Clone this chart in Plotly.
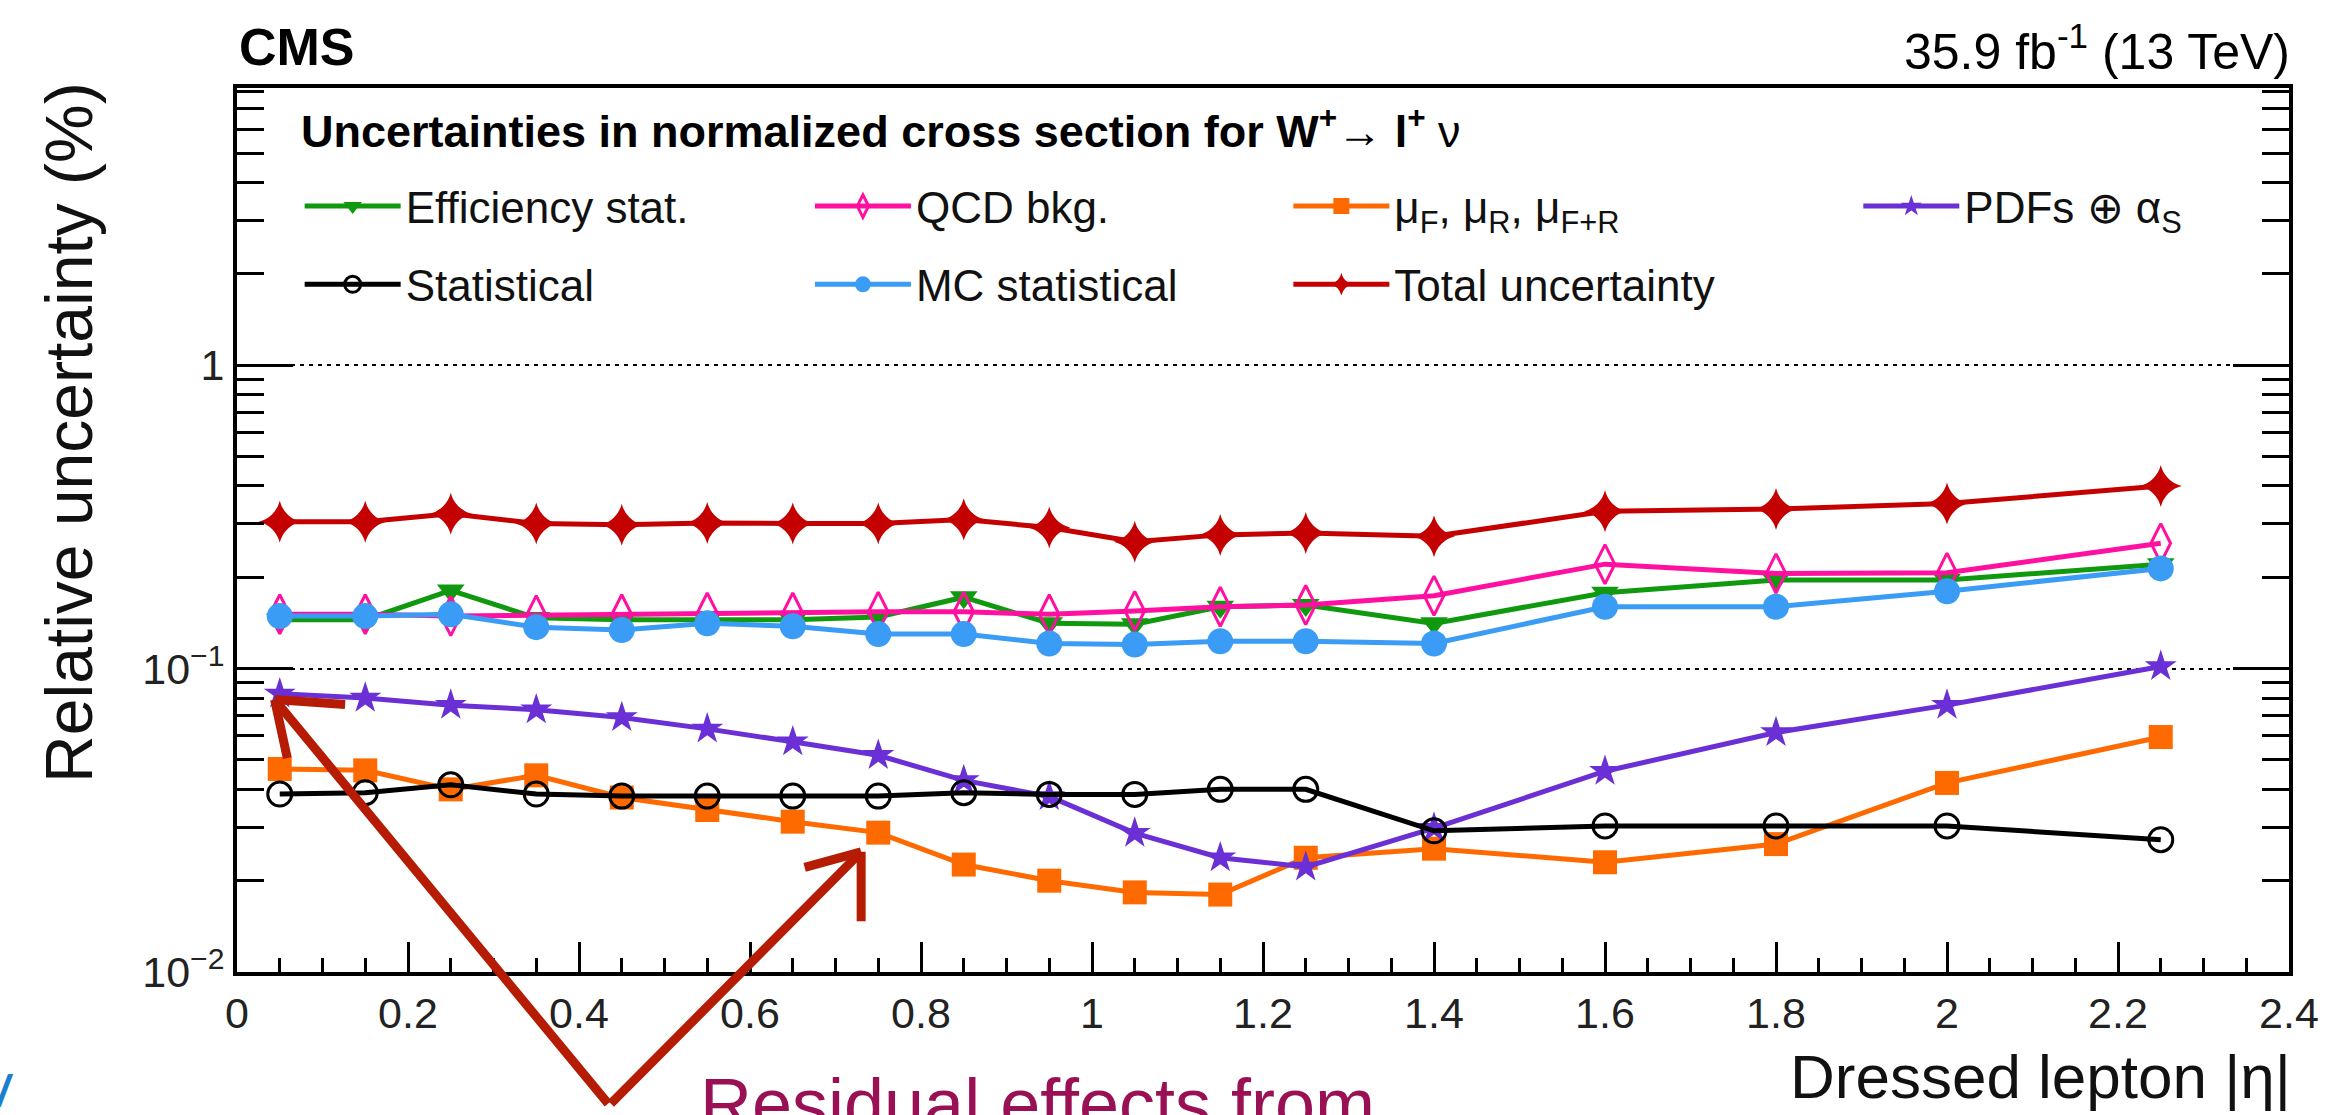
import plotly.graph_objects as go

# |eta| bin centres of the dressed lepton
eta = [0.05, 0.15, 0.25, 0.35, 0.45, 0.55, 0.65, 0.75, 0.85, 0.95,
       1.05, 1.15, 1.25, 1.4, 1.6, 1.8, 2.0, 2.25]

# relative uncertainties (%) per source
eff_stat = [0.145, 0.145, 0.181, 0.147, 0.145, 0.145, 0.145, 0.148, 0.172, 0.141,
            0.140, 0.160, 0.162, 0.141, 0.178, 0.196, 0.196, 0.221]
qcd_bkg = [0.151, 0.151, 0.149, 0.150, 0.151, 0.153, 0.153, 0.154, 0.154, 0.151,
           0.155, 0.160, 0.162, 0.174, 0.221, 0.206, 0.207, 0.259]
scales = [0.0467, 0.0462, 0.0400, 0.0445, 0.0376, 0.0342, 0.0313, 0.0288, 0.0226, 0.0200,
          0.0183, 0.0180, 0.0238, 0.0255, 0.0230, 0.0264, 0.0420, 0.0595]
pdf_as = [0.0826, 0.0800, 0.0758, 0.0732, 0.0690, 0.0633, 0.0574, 0.0518, 0.0428, 0.0379,
          0.0287, 0.0238, 0.0222, 0.0298, 0.0459, 0.0616, 0.0758, 0.1017]
stat = [0.0386, 0.0390, 0.0414, 0.0386, 0.0380, 0.0380, 0.0380, 0.0380, 0.0390, 0.0385,
        0.0385, 0.0400, 0.0400, 0.0292, 0.0303, 0.0303, 0.0303, 0.0273]
mc_stat = [0.149, 0.149, 0.151, 0.137, 0.134, 0.141, 0.138, 0.130, 0.130, 0.121,
           0.120, 0.123, 0.123, 0.121, 0.160, 0.160, 0.180, 0.214]
total = [0.305, 0.305, 0.324, 0.301, 0.298, 0.302, 0.301, 0.301, 0.310, 0.292,
         0.262, 0.276, 0.280, 0.273, 0.330, 0.336, 0.350, 0.400]

x_ticks = [0, 0.2, 0.4, 0.6, 0.8, 1, 1.2, 1.4, 1.6, 1.8, 2, 2.2, 2.4]
x_ticktext = ["0", "0.2", "0.4", "0.6", "0.8", "1", "1.2", "1.4", "1.6", "1.8", "2", "2.2", "2.4"]
y_ticks = [0.01, 0.1, 1]
y_ticktext = ["10<sup>−2</sup>", "10<sup>−1</sup>", "1"]
y_minor = [m * 10.0 ** k for k in (-2, -1, 0) for m in range(2, 10)]

FONT = "Liberation Sans, Arial, Helvetica, sans-serif"
W, H = 2331, 1115
ML, MR, MT, MB = 237, 31, 88, 143
PW, PH = W - ML - MR, H - MT - MB


def px(x):
    return (x - ML) / PW


def py(y):
    return (H - MB - y) / PH


series = [
    # name, values, colour, symbol, size, legend
    ("Efficiency stat.", eff_stat, "#10990f", "triangle-down", 24, "legend"),
    ("QCD bkg.", qcd_bkg, "#ff10a0", "diamond-tall-open", 28, "legend2"),
    ("μ<sub>F</sub>, μ<sub>R</sub>, μ<sub>F+R</sub>", scales, "#ff6a00", "square", 24, "legend3"),
    ("PDFs ⊕ α<sub>S</sub>", pdf_as, "#6b2fd6", "star", 24, "legend4"),
    ("Statistical", stat, "#000000", "circle-open", 24, "legend"),
    ("MC statistical", mc_stat, "#3a9cf5", "circle", 26, "legend2"),
    ("Total uncertainty", total, "#c40000", "star-diamond", 30, "legend3"),
]

fig = go.Figure()
for i, (name, vals, col, sym, size, leg) in enumerate(series):
    open_sym = sym.endswith("open")
    fig.add_trace(go.Scatter(
        x=eta, y=vals, name=name, mode="lines+markers",
        legend=leg, legendgroup=f"g{i}",
        line=dict(color=col, width=5),
        marker=dict(symbol=sym, size=size, color=col,
                    line=dict(color=col, width=3 if open_sym else 0)),
    ))

legend_common = dict(
    font=dict(family=FONT, size=44, color="#111"),
    bgcolor="rgba(0,0,0,0)", borderwidth=0,
    xanchor="left", yanchor="top", orientation="v",
    itemwidth=96, tracegroupgap=18, itemclick=False,
)
legend_top = py(171)
fig.update_layout(
    legend=dict(x=px(300), y=legend_top, **legend_common),
    legend2=dict(x=px(813), y=legend_top, **legend_common),
    legend3=dict(x=px(1294), y=legend_top, **legend_common),
    legend4=dict(x=px(1867), y=legend_top, **legend_common),
)

axis_line = dict(showline=True, linecolor="black", linewidth=4, zeroline=False)
fig.update_xaxes(
    type="linear", range=[0, 2.4], mirror=True,
    tickmode="array", tickvals=x_ticks, ticktext=x_ticktext,
    ticks="inside", ticklen=30, tickwidth=3, tickcolor="black",
    minor=dict(dtick=0.05, tick0=0, ticks="inside", ticklen=14, tickwidth=3,
               tickcolor="black", showgrid=False),
    showgrid=False,
    tickfont=dict(family=FONT, size=43, color="#222"),
    **axis_line,
)
fig.update_yaxes(
    type="log", range=[-2, 0.914], mirror="ticks",
    tickmode="array", tickvals=y_ticks, ticktext=y_ticktext,
    ticks="inside", ticklen=56, tickwidth=3, tickcolor="black",
    minor=dict(tickmode="array", tickvals=y_minor, ticks="inside", ticklen=27,
               tickwidth=3, tickcolor="black", showgrid=False),
    showgrid=True, gridcolor="black", gridwidth=2, griddash="4px,5px",
    tickfont=dict(family=FONT, size=43, color="#222"),
    **axis_line,
)

annotations = [
    dict(text="<b>CMS</b>", x=0, y=py(47), xanchor="left", yanchor="middle",
         font=dict(family=FONT, size=52, color="black")),
    dict(text="35.9 fb<sup>-1</sup> (13 TeV)", x=px(2303), y=py(48),
         xanchor="right", yanchor="middle",
         font=dict(family=FONT, size=50, color="black")),
    dict(text="<b>Uncertainties in normalized cross section for W<sup>+</sup>→ l<sup>+</sup></b> ν",
         x=px(299), y=py(128), xanchor="left", yanchor="middle",
         font=dict(family=FONT, size=45, color="black")),
    dict(text="Relative uncertainty (%)", x=px(68), y=py(432), textangle=-90,
         xanchor="center", yanchor="middle",
         font=dict(family=FONT, size=66, color="#111")),
    dict(text="Dressed lepton |η|", x=px(2304), y=py(1076),
         xanchor="right", yanchor="middle",
         font=dict(family=FONT, size=62, color="#111")),
    dict(text="Residual effects from", x=px(700), y=py(1062),
         xanchor="left", yanchor="top",
         font=dict(family=FONT, size=72, color="#9a1055")),
    dict(text="<b><i>/</i></b>", x=px(-8), y=py(1090), xanchor="left", yanchor="middle",
         font=dict(family=FONT, size=44, color="#1a7fd0")),
]
for a in annotations:
    a.update(xref="paper", yref="paper", showarrow=False)

# hand-drawn style pointers: a shared vertex below the axis, with open
# chevron heads near the first PDF point and the dip of the scale curve
ARROW = dict(text="", showarrow=True, arrowhead=0, arrowwidth=9,
             arrowcolor="#b51c03", standoff=0, startstandoff=0,
             xref="x", yref="y")
vertex_x, vertex_y = 0.4355, -2.439  # log10 units on the y axis
pointers = [
    # tip (x, log10 y), barb offsets in pixels
    ((0.044, -1.102), [(72, 5), (13, 60)]),
    ((0.73, -1.604), [(-58, 16), (0, 71)]),
]
for (tx, ty), barbs in pointers:
    annotations.append(dict(x=tx, y=ty, ax=vertex_x, ay=vertex_y,
                            axref="x", ayref="y", **ARROW))
    for bx, by in barbs:
        annotations.append(dict(x=tx, y=ty, ax=bx, ay=by,
                                axref="pixel", ayref="pixel", **ARROW))

fig.update_layout(
    width=W, height=H,
    margin=dict(l=ML, r=MR, t=MT, b=MB, pad=0),
    paper_bgcolor="white", plot_bgcolor="white",
    font=dict(family=FONT, color="black"),
    annotations=annotations,
    showlegend=True,
)

fig.write_html("out.html")
